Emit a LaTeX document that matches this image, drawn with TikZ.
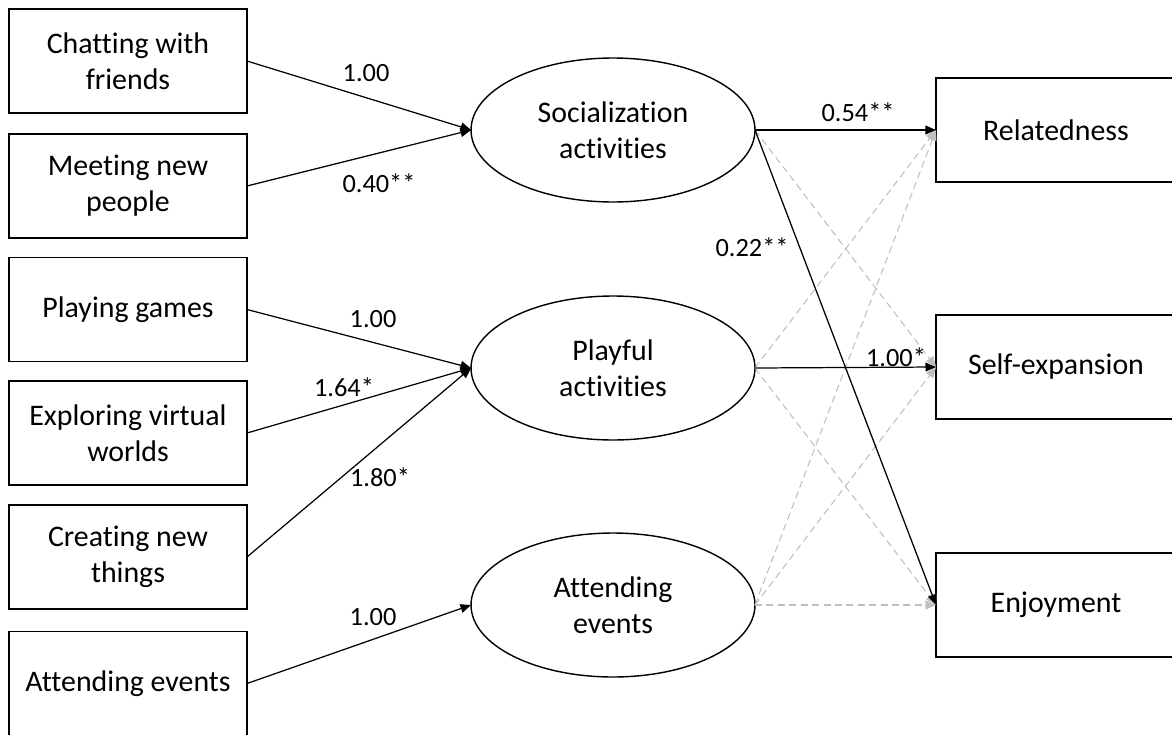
\documentclass[tikz,border=0pt]{standalone}
\usepackage{fontspec}
\setmainfont[Ligatures=NoCommon]{Carlito}
\usetikzlibrary{shapes.geometric,arrows.meta}
\begin{document}
\begin{tikzpicture}[x=0.02cm,y=-0.02cm,
  box/.style={draw,line width=0.8pt,rectangle,inner sep=0pt,outer sep=0pt,
    minimum width=4.76cm,minimum height=2.08cm,align=center,
    font=\fontsize{17}{20.5}\selectfont},
  rbox/.style={box,minimum width=4.8cm},
  latent/.style={draw,line width=0.8pt,ellipse,inner sep=0pt,outer sep=0pt,
    minimum width=5.68cm,minimum height=2.88cm,align=center,
    font=\fontsize{17}{20.5}\selectfont},
  lbl/.style={font=\fontsize{15}{17}\selectfont,inner sep=0pt},
  path/.style={line width=0.7pt,-{Triangle[length=6pt,width=5pt]}},
  nspath/.style={line width=0.6pt,gray!50,dash pattern=on 4pt off 2.5pt,
    -{Triangle[length=6pt,width=5pt]}}]
\clip (0,0) rectangle (1172,734);
\fill[white] (0,0) rectangle (1172,734);
% observed indicators
\node[box] (chat) at (128,61) {Chatting with\\friends};
\node[box] (meet) at (128,186) {Meeting new\\people};
\node[box] (play) at (128,309.5) {Playing games};
\node[box] (expl) at (128,433) {Exploring virtual\\worlds};
\node[box] (crea) at (128,557) {Creating new\\things};
\node[box] (atte) at (128,683.5) {Attending events};
% latent factors
\node[latent] (soc) at (613,130) {Socialization\\activities};
\node[latent] (ply) at (613,368) {Playful\\activities};
\node[latent] (evt) at (613,605) {Attending\\events};
% outcomes
\node[rbox] (rel) at (1056,130) {Relatedness};
\node[rbox] (sel) at (1056,367) {Self-expansion};
\node[rbox] (enj) at (1056,605) {Enjoyment};
% non-significant paths
\draw[nspath] (soc.east) -- (sel.west);
\draw[nspath] (soc.east) -- (enj.west);
\draw[nspath] (ply.east) -- (rel.west);
\draw[nspath] (ply.east) -- (enj.west);
\draw[nspath] (evt.east) -- (rel.west);
\draw[nspath] (evt.east) -- (sel.west);
\draw[nspath] (evt.east) -- (enj.west);
% measurement paths
\draw[path] (chat.east) -- (soc.west);
\draw[path] (meet.east) -- (soc.west);
\draw[path] (play.east) -- (ply.west);
\draw[path] (expl.east) -- (ply.west);
\draw[path] (crea.east) -- (ply.west);
\draw[path] (atte.east) -- (evt.west);
% structural paths
\draw[path] (soc.east) -- (rel.west);
\draw[path] (soc.east) -- (enj.west);
\draw[path] (ply.east) -- (sel.west);
% labels
\node[lbl] (l1) at (366,73) {1.00};
\node[lbl] (l2) at (379,183) {0.40**};
\node[lbl] (l3) at (373,319) {1.00};
\node[lbl] (l4) at (344,387) {1.64*};
\node[lbl] (l5) at (380,477) {1.80*};
\node[lbl] (l6) at (373,617) {1.00};
\node[lbl] (l7) at (858,112) {0.54**};
\node[lbl] (l8) at (752,247) {0.22**};
\node[lbl] (l9) at (896,357) {1.00*};
\end{tikzpicture}
\end{document}
